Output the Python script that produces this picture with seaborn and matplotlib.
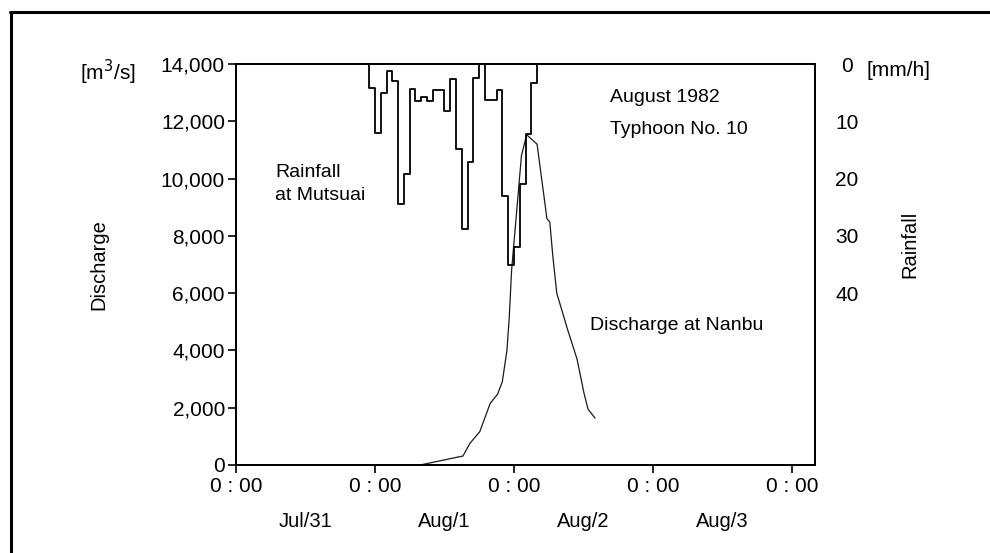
import numpy as np
import pandas as pd
import matplotlib.pyplot as plt
import seaborn as sns
from matplotlib.lines import Line2D
from matplotlib.ticker import FuncFormatter

# Typhoon No. 10, August 1982. Time axis in hours counted from Jul/31 0:00.

# Hourly rainfall at Mutsuai [mm/h] (value holds for the hour starting at rain_hour)
rain_hour = list(range(22, 54))
rain_mm = [0, 4.2, 12.0, 5.0, 1.2, 3.0, 24.5, 19.2, 4.3, 6.4, 5.8, 6.5,
           4.5, 4.5, 8.2, 2.6, 14.9, 28.8, 17.1, 2.4, 0, 6.3, 6.3, 4.5,
           23.0, 35.0, 32.0, 21.0, 12.3, 3.3, 0, 0]

# Discharge at Nanbu [m3/s]
flow_hour = [31.8, 39.2, 40.4, 42.1, 43.9, 45.2, 46.0, 46.8, 47.2, 47.6,
             49.3, 50.2, 52.0, 53.7, 54.2, 54.7, 55.4, 57.3, 58.9, 60.1,
             60.8, 62.0]
flow_m3s = [0, 314, 757, 1163, 2150, 2480, 2910, 4015, 5177, 6800,
            10800, 11530, 11200, 8600, 8480, 7330, 6000, 4710, 3700, 2510,
            1950, 1640]

day_ticks = [0, 24, 48, 72, 96]
day_labels = ["Jul/31", "Aug/1", "Aug/2", "Aug/3"]

sns.set_style("ticks")
plt.rcParams['font.family'] = ['Liberation Sans', 'DejaVu Sans']
plt.rcParams.update({"text.color": "k", "axes.labelcolor": "k",
                     "xtick.color": "k", "ytick.color": "k"})
FS = 14

fig = plt.figure(figsize=(9.9, 5.53), dpi=100)
ax = fig.add_axes([236 / 990, 1 - 465 / 553, 579 / 990, 401 / 553])

rain = pd.DataFrame({"hour": rain_hour, "rain": rain_mm})
flow = pd.DataFrame({"hour": flow_hour, "flow": flow_m3s})

# Discharge on the left axis
sns.lineplot(data=flow, x="hour", y="flow", ax=ax, color="#1a1a1a", lw=0.9,
             estimator=None, sort=False)
ax.set_xlim(0, 100)
ax.set_ylim(0, 14000)
ax.set_yticks(np.arange(0, 14001, 2000))
ax.yaxis.set_major_formatter(FuncFormatter(lambda v, p: "{:,.0f}".format(v)))
ax.set_xticks(day_ticks)
ax.set_xticklabels(["0 : 00"] * len(day_ticks))
ax.tick_params(axis="both", labelsize=FS + 1, length=6, width=1.2, color="k",
               labelcolor="k")
ax.tick_params(axis="y", pad=2)
ax.tick_params(axis="x", pad=3)
ax.set_xlabel("")
ax.set_ylabel("Discharge", fontsize=FS + 0.5)
ax.yaxis.set_label_coords(-0.22, 0.5)

# Rainfall on an inverted right axis
ax2 = ax.twinx()
sns.lineplot(data=rain, x="hour", y="rain", ax=ax2, color="k", lw=1.3,
             estimator=None, sort=False, drawstyle="steps-post")
ax2.set_ylim(70, 0)
ax2.set_yticks([0, 10, 20, 30, 40])
ax2.tick_params(axis="y", length=0, pad=23, labelsize=FS + 1, labelcolor="k")
for t in ax2.get_yticklabels():
    t.set_ha("center")
ax2.set_ylabel("Rainfall", fontsize=FS + 0.5)
ax2.yaxis.set_label_coords(1.148, 0.55)

for a in (ax, ax2):
    for s in a.spines.values():
        s.set_linewidth(1.3)
        s.set_color("k")

# Date labels under the time ticks
for i, lab in enumerate(day_labels):
    ax.text(day_ticks[i] + 12, -0.142, lab, transform=ax.get_xaxis_transform(),
            ha="center", va="center", fontsize=FS + 0.5)

# Annotations
fig.text(80 / 990, 1 - 72 / 553, "[m$^3$/s]", fontsize=FS + 1, ha="left", va="center")
fig.text(867 / 990, 1 - 70 / 553, "[mm/h]", fontsize=FS + 1, ha="left", va="center")
fig.text(610 / 990, 1 - 97 / 553, "August 1982", fontsize=FS, ha="left", va="center")
fig.text(610 / 990, 1 - 130 / 553, "Typhoon No. 10", fontsize=FS, ha="left", va="center")
fig.text(275 / 990, 1 - 184 / 553, "Rainfall\nat Mutsuai", fontsize=FS,
         ha="left", va="center", linespacing=1.4)
fig.text(590 / 990, 1 - 325 / 553, "Discharge at Nanbu", fontsize=FS,
         ha="left", va="center")

# Page frame (top and left edges)
fig.add_artist(Line2D([10 / 990, 1.0], [1 - 12 / 553, 1 - 12 / 553],
                      transform=fig.transFigure, color="k", lw=2.2))
fig.add_artist(Line2D([11 / 990, 11 / 990], [0.0, 1 - 12 / 553],
                      transform=fig.transFigure, color="k", lw=2.2))

fig.savefig("out.png", dpi=100)
